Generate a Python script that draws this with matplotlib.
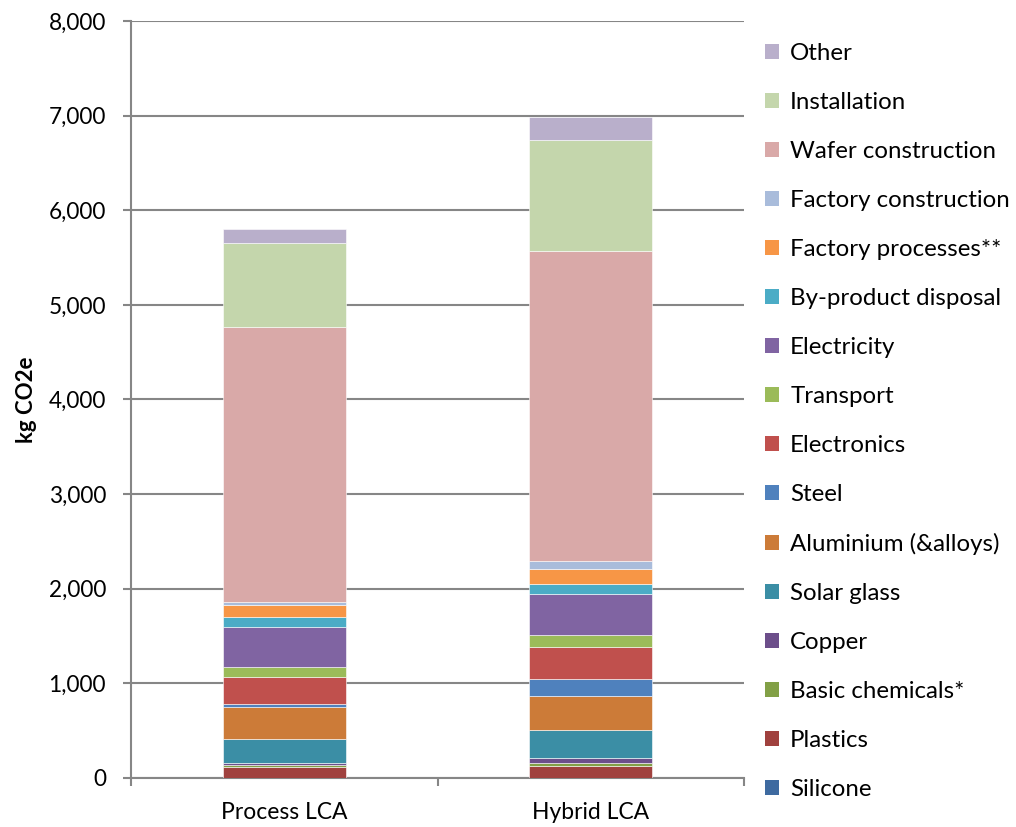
import matplotlib
matplotlib.use("Agg")
import matplotlib.pyplot as plt
import numpy as np

categories = ["Process LCA", "Hybrid LCA"]

components = [
    "Silicone", "Plastics", "Basic chemicals*", "Copper", "Solar glass",
    "Aluminium (&alloys)", "Steel", "Electronics", "Transport", "Electricity",
    "By-product disposal", "Factory processes**", "Factory construction",
    "Wafer construction", "Installation", "Other",
]

process_lca = [5, 108, 21, 28, 247, 338, 39, 285, 106, 416, 106, 127, 39, 2899, 885, 148]
hybrid_lca = [5, 125, 28, 49, 296, 359, 183, 335, 130, 430, 113, 155, 81, 3278, 1180, 236]

colors = [
    "#3E6AA0", "#A0413E", "#82A046", "#6C4E8A", "#3B8EA5",
    "#CC7B38", "#4F81BD", "#C0504D", "#9BBB59", "#8064A2",
    "#4BACC6", "#F79646", "#A9BCDB", "#D9A9A8", "#C4D6AC", "#B9AFCB",
]

y_ticks = [0, 1000, 2000, 3000, 4000, 5000, 6000, 7000, 8000]

plt.rcParams["font.family"] = ["Lato", "DejaVu Sans"]

fig = plt.figure(figsize=(10.16, 8.27), dpi=100)
ax = fig.add_axes([131 / 1016, 1 - 778 / 827, 613 / 1016, 757 / 827])

x = np.arange(len(categories))
bottom = np.zeros(len(categories))
handles = []
for name, pv, hv, c in zip(components, process_lca, hybrid_lca, colors):
    vals = np.array([pv, hv], dtype=float)
    b = ax.bar(x, vals, width=0.4, bottom=bottom, color=c, label=name,
               edgecolor="white", linewidth=0.4, zorder=3)
    handles.append(b)
    bottom += vals

grid_c = "#868686"
ax.set_xlim(-0.5, 1.5)
ax.set_ylim(0, 8000)
ax.set_yticks(y_ticks)
ax.set_yticklabels([f"{v:,}" for v in y_ticks])
ax.yaxis.grid(True, color=grid_c, linewidth=1.5, zorder=0)
ax.set_axisbelow(True)

ax.set_xticks(x)
ax.set_xticklabels(categories)
ax.set_xticks([-0.5, 0.5, 1.5], minor=True)
ax.tick_params(axis="x", which="major", length=0, pad=17, labelsize=16.5)
ax.tick_params(axis="x", which="minor", length=6, width=1.5, color=grid_c, direction="out")
ax.tick_params(axis="y", length=6, width=1.5, color=grid_c, direction="out", pad=12, labelsize=16.3)

for side in ("top", "right"):
    ax.spines[side].set_visible(False)
for side in ("left", "bottom"):
    ax.spines[side].set_color(grid_c)
    ax.spines[side].set_linewidth(1.5)

ax.set_ylabel("kg CO2e", fontsize=16, fontweight="bold", labelpad=8)

leg = fig.legend(handles[::-1], components[::-1], loc="upper left",
                 bbox_to_anchor=(765 / 1016, 1 - 43 / 827), frameon=False,
                 fontsize=17.3, handlelength=0.6, handleheight=0.6,
                 handletextpad=0.45, labelspacing=1.165, borderpad=0,
                 borderaxespad=0)
for h in leg.legend_handles:
    h.set_edgecolor("none")

fig.savefig("out.png", dpi=100)
